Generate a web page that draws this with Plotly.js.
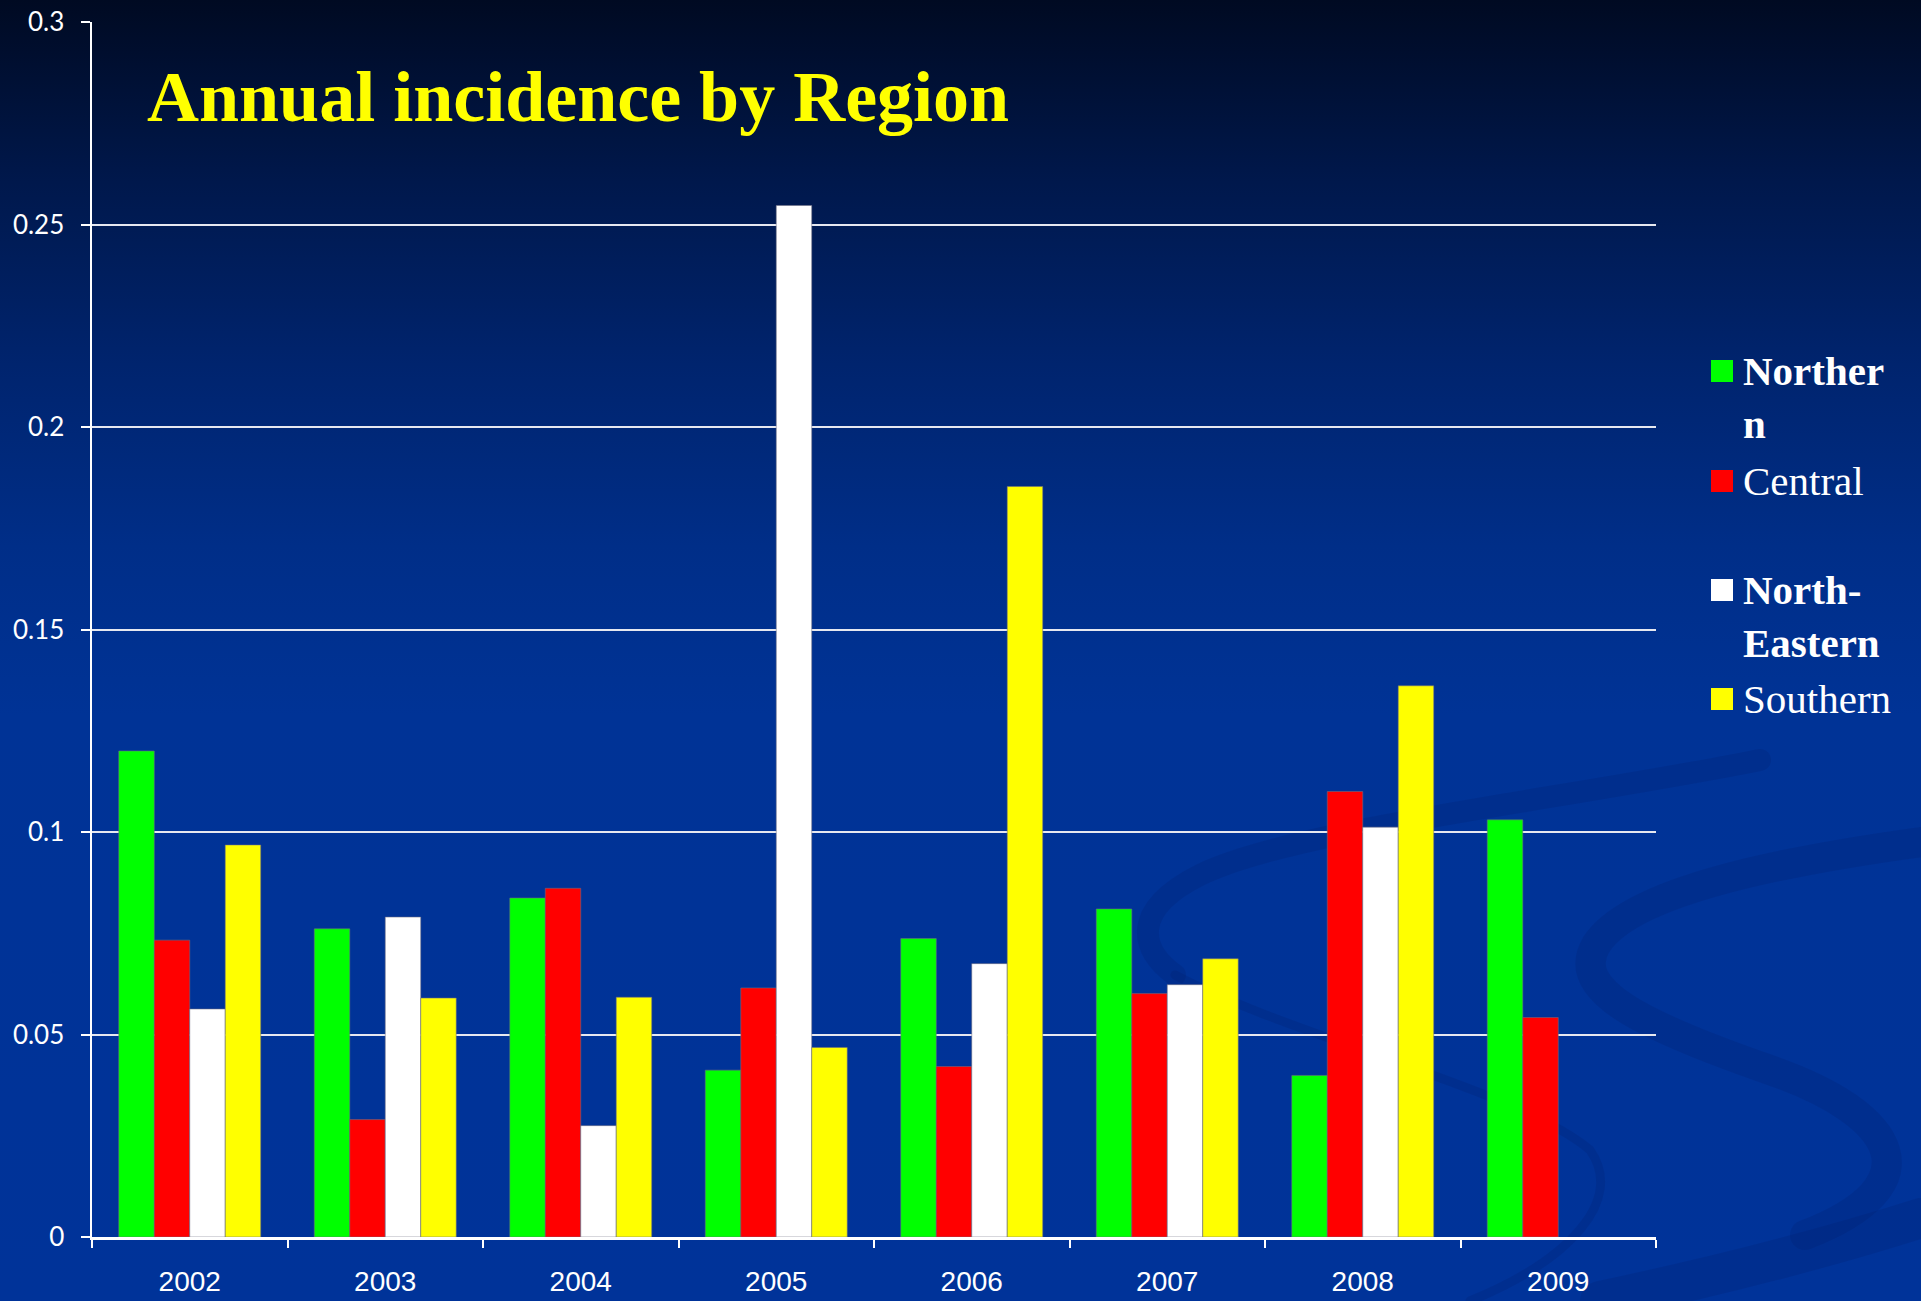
<!DOCTYPE html>
<html>
<head>
<meta charset="utf-8">
<script src="https://cdn.plot.ly/plotly-3.0.1.min.js"></script>
<style>
  html, body { margin: 0; padding: 0; width: 1921px; height: 1301px; overflow: hidden; }
  #stage {
    position: relative; width: 1921px; height: 1301px;
    background: linear-gradient(to bottom, #000a22 0%, #00184c 14%, #00246e 28%, #002e88 42%, #003396 55%, #003399 100%);
  }
  #swirls, #chart { position: absolute; left: 0; top: 0; width: 1921px; height: 1301px; }
</style>
</head>
<body>
<div id="stage">
  <!-- faint decorative ribbons in the slide background -->
  <svg id="swirls" viewBox="0 0 1921 1301" xmlns="http://www.w3.org/2000/svg">
    <g fill="none" stroke="rgba(0,28,105,0.2)" stroke-linecap="round">
      <path d="M1921 842 C1790 860 1630 890 1596 945 C1570 990 1640 1025 1770 1070 C1900 1115 1935 1185 1805 1235" stroke-width="30"/>
      <path d="M1760 760 C1560 800 1290 830 1200 875 C1130 910 1140 950 1175 975" stroke-width="22"/>
      <path d="M1175 975 C1300 1040 1520 1090 1590 1150 C1625 1200 1570 1260 1470 1301" stroke-width="9"/>
      <path d="M1921 1218 C1820 1250 1700 1280 1600 1301" stroke-width="40"/>
    </g>
  </svg>
  <div id="chart"></div>
</div>
<script>
// Annual incidence per region, 2002-2009
const years = ['2002', '2003', '2004', '2005', '2006', '2007', '2008', '2009'];

const regionNames = ['Northern', 'Central', 'North-Eastern', 'Southern'];
const northern     = [0.1200, 0.0761, 0.0837, 0.0412, 0.0737, 0.0810, 0.0399, 0.1030];
const central      = [0.0733, 0.0290, 0.0861, 0.0615, 0.0421, 0.0601, 0.1100, 0.0542];
const northEastern = [0.0563, 0.0790, 0.0275, 0.2547, 0.0675, 0.0623, 0.1012, null];
const southern     = [0.0968, 0.0590, 0.0592, 0.0468, 0.1853, 0.0687, 0.1361, null];

const regionColors = ['#00ff00', '#ff0000', '#ffffff', '#ffff00'];
// legend labels, wrapped the way the key shows them
const legendLabels = ['<b>Norther<br>n</b>', 'Central', '<b>North-<br>Eastern</b>', 'Southern'];

const series = [northern, central, northEastern, southern];

const W = 1921, H = 1301;
const margin = { l: 92, r: 265, t: 22, b: 64, pad: 0 };
const plotW = W - margin.l - margin.r;
const plotH = H - margin.t - margin.b;
const px2x = (px) => (px - margin.l) / plotW;
const px2y = (py) => (H - margin.b - py) / plotH;

const traces = series.map((vals, i) => ({
  type: 'bar',
  name: regionNames[i],
  x: years,
  y: vals,
  marker: { color: regionColors[i], line: { color: 'rgba(110,110,130,0.55)', width: 1 } },
  showlegend: false,
  hoverinfo: 'x+y+name'
}));

// key: coloured squares plus labels at the right of the plot
const keyTop = [360, 470, 579, 688];
const shapes = [];
const annotations = [];
keyTop.forEach((top, i) => {
  shapes.push({
    type: 'rect', xref: 'paper', yref: 'paper', layer: 'above',
    x0: px2x(1711), x1: px2x(1733), y0: px2y(top + 22), y1: px2y(top),
    fillcolor: regionColors[i], line: { width: 0 }
  });
  annotations.push({
    xref: 'paper', yref: 'paper', x: px2x(1741), y: px2y(top - 14),
    xanchor: 'left', yanchor: 'top', align: 'left', showarrow: false,
    text: legendLabels[i],
    font: { family: 'Liberation Serif, serif', size: 41, color: '#ffffff' }
  });
});

const layout = {
  width: W, height: H,
  margin: margin,
  paper_bgcolor: 'rgba(0,0,0,0)',
  plot_bgcolor: 'rgba(0,0,0,0)',
  barmode: 'group',
  bargap: 0.274,
  bargroupgap: 0,
  showlegend: false,
  title: {
    text: 'Annual incidence by Region',
    xref: 'container', yref: 'container',
    x: 147 / W, xanchor: 'left',
    y: 1 - 71 / H, yanchor: 'top',
    font: { family: 'Liberation Serif, serif', size: 72, color: '#ffff00', weight: 'bold' }
  },
  xaxis: {
    type: 'category',
    tickson: 'boundaries',
    ticks: 'outside', ticklen: 8, tickwidth: 2, tickcolor: '#ffffff',
    showline: true, linecolor: '#ffffff', linewidth: 3,
    showgrid: false, zeroline: false,
    ticklabelstandoff: 17,
    tickfont: { family: 'Liberation Sans, Arial, sans-serif', size: 28, color: '#ffffff' }
  },
  yaxis: {
    range: [0, 0.3],
    dtick: 0.05, tick0: 0,
    ticks: 'outside', ticklen: 9, tickwidth: 2, tickcolor: '#ffffff',
    showline: true, linecolor: '#ffffff', linewidth: 2.5,
    showgrid: true, gridcolor: '#e6e8f0', gridwidth: 2,
    zeroline: false,
    ticklabelstandoff: 11,
    tickfont: { family: 'Lato, sans-serif', size: 26, color: '#ffffff' }
  },
  shapes: shapes,
  annotations: annotations
};

Plotly.newPlot('chart', traces, layout, { displayModeBar: false, staticPlot: true });
</script>
</body>
</html>
